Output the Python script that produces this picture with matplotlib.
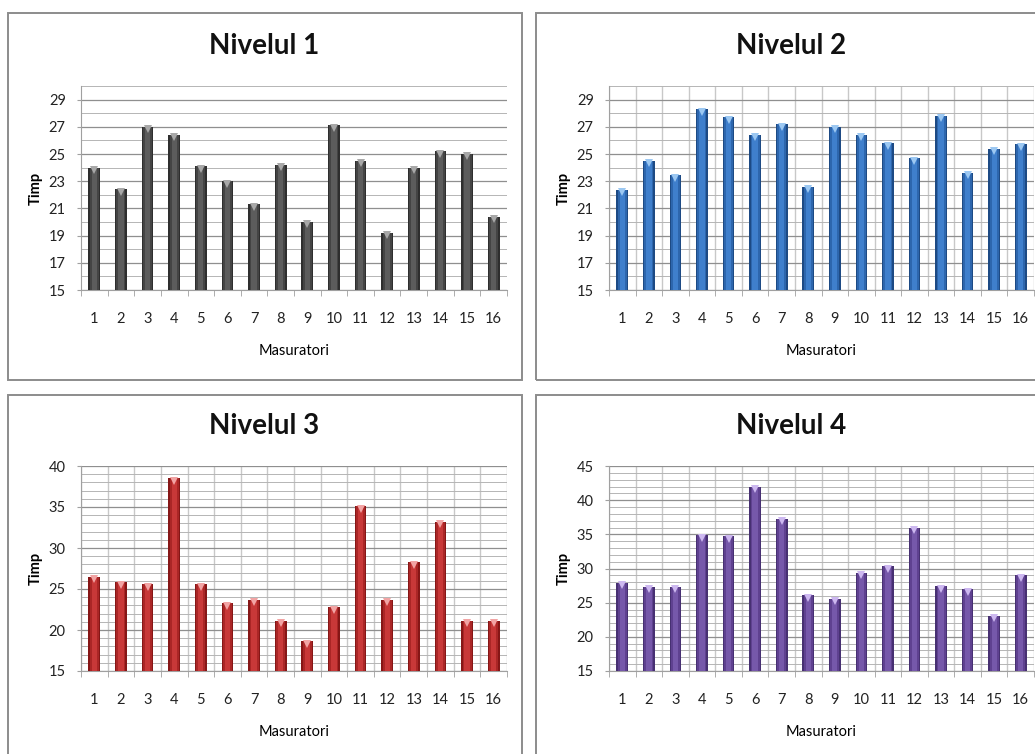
import matplotlib
matplotlib.use("Agg")
import matplotlib.pyplot as plt
from matplotlib.patches import Rectangle
from matplotlib.ticker import FixedLocator, MultipleLocator
import numpy as np

plt.rcParams['font.family'] = ['Lato', 'DejaVu Sans']

masuratori = list(range(1, 17))

nivel1 = [24.0, 22.4, 27.0, 26.4, 24.1, 23.0, 21.3, 24.2, 20.0, 27.1, 24.5, 19.2, 24.0, 25.2, 25.0, 20.4]
nivel2 = [22.35, 24.5, 23.45, 28.3, 27.7, 26.4, 27.2, 22.6, 27.0, 26.4, 25.8, 24.7, 27.8, 23.6, 25.4, 25.7]
nivel3 = [26.5, 25.8, 25.6, 38.5, 25.6, 23.25, 23.7, 21.1, 18.6, 22.8, 35.1, 23.7, 28.25, 33.2, 21.1, 21.1]
nivel4 = [27.9, 27.3, 27.3, 34.85, 34.7, 42.0, 37.3, 26.1, 25.6, 29.4, 30.3, 36.0, 27.4, 26.95, 23.1, 29.0]

W, H = 1035, 754
fig = plt.figure(figsize=(W / 100, H / 100), dpi=100)
fig.patch.set_facecolor('white')


def px_axes(x0, y0, x1, y1):
    return fig.add_axes([x0 / W, 1 - y1 / H, (x1 - x0) / W, (y1 - y0) / H])


def frame(x0, y0, x1, y1):
    r = Rectangle((x0 / W, 1 - y1 / H), (x1 - x0) / W, (y1 - y0) / H,
                  transform=fig.transFigure, fill=False, edgecolor='#8c8c8c', lw=1.4)
    fig.patches.append(r)


# panel frames
frame(7.5, 13, 521.5, 380)
frame(535.5, 13, 1060, 380)
frame(7.5, 395, 521.5, 790)
frame(535.5, 395, 1060, 790)

panels = [
    # values, title, axes box, ylim, y ticks, colours (edge, body, core, cap), vertical grid
    (nivel1, 'Nivelul 1', (81, 86, 507, 290), (15, 30), list(range(15, 30, 2)),
     ('#2e2e2e', '#444444', '#5c5c5c', '#a8a8a8'), False),
    (nivel2, 'Nivelul 2', (609, 86, 1034, 290), (15, 30), list(range(15, 30, 2)),
     ('#1d4a84', '#2d66ad', '#3f7fcc', '#9cc8f2'), True),
    (nivel3, 'Nivelul 3', (81, 466, 507, 671), (15, 40), list(range(15, 41, 5)),
     ('#861616', '#aa2626', '#c83838', '#f2a4a4'), True),
    (nivel4, 'Nivelul 4', (609, 466, 1034, 671), (15, 45), list(range(15, 46, 5)),
     ('#473072', '#5f4190', '#7658aa', '#cdb8f0'), True),
]

for vals, title, box, ylim, yticks, cols, vgrid in panels:
    x0, y0, x1, y1 = box
    ax = px_axes(x0, y0, x1, y1)
    x = np.array(masuratori)
    v = np.array(vals)
    base = ylim[0]

    # cylinder-like bars: dark edges with lighter core
    ax.bar(x, v - base, bottom=base, width=0.44, color=cols[0], zorder=3)
    ax.bar(x, v - base, bottom=base, width=0.34, color=cols[1], zorder=3)
    ax.bar(x, v - base, bottom=base, width=0.20, color=cols[2], zorder=3)
    # light cap at the top of each bar
    cap = (ylim[1] - ylim[0]) * 0.012
    ax.plot(x, v - cap, linestyle='none', marker='v', markersize=5.5,
            color=cols[3], markeredgewidth=0, zorder=4)

    ax.set_xlim(0.5, 16.5)
    ax.set_ylim(*ylim)
    ax.yaxis.set_major_locator(FixedLocator(yticks))
    ax.yaxis.set_minor_locator(MultipleLocator(1))
    ax.set_xticks(x)
    ax.set_xticklabels([str(m) for m in masuratori])
    ax.xaxis.set_minor_locator(FixedLocator(np.arange(0.5, 17, 1)))

    ax.grid(True, axis='y', which='major', color='#8f8f8f', lw=0.9, zorder=1)
    ax.grid(True, axis='y', which='minor', color='#b5b5b5', lw=0.7, zorder=1)
    if vgrid:
        ax.grid(True, axis='x', which='minor', color='#c8c8c8', lw=1.0, zorder=1)
    ax.grid(False, axis='x', which='major')

    for s in ['top', 'right']:
        ax.spines[s].set_visible(False)
    ax.spines['left'].set_color('#a0a0a0')
    ax.spines['bottom'].set_color('#a0a0a0')

    ax.tick_params(axis='x', which='major', length=0, pad=16, labelsize=10.5, labelcolor='#222222')
    ax.tick_params(axis='x', which='minor', length=4, color='#a0a0a0', direction='out')
    ax.tick_params(axis='y', which='major', length=3, color='#a0a0a0', labelsize=10.5, labelcolor='#222222', pad=8)
    ax.tick_params(axis='y', which='minor', length=0)

    ax.set_ylabel('Timp', fontsize=10.5, fontweight='bold', labelpad=4)
    ax.set_xlabel('Masuratori', fontsize=10.5, labelpad=13)

    cx = (x0 + x1) / 2 - 30
    fig.text(cx / W, 1 - (y0 - 40) / H, title, ha='center', va='center',
             fontsize=20, fontweight='bold', color='#111111')

fig.savefig('out.png', dpi=100)
